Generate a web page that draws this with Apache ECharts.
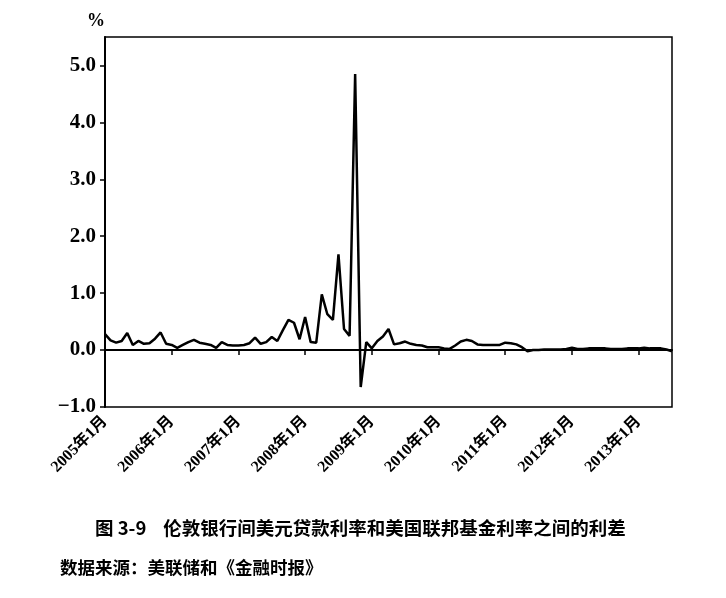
<!DOCTYPE html>
<html>
<head>
<meta charset="utf-8">
<script src="https://cdn.jsdelivr.net/npm/echarts@6/dist/echarts.min.js"></script>
<style>
html,body{margin:0;padding:0;background:#fff;}
#chart{width:726px;height:598px;}
</style>
</head>
<body>
<div id="chart"></div>
<script>
// Monthly categories: Jan 2005 .. Jul 2013
var years = [2005, 2006, 2007, 2008, 2009, 2010, 2011, 2012, 2013];
var categories = [];
years.forEach(function (y) {
  for (var m = 1; m <= 12; m++) {
    if (y === 2013 && m > 7) break;
    categories.push(y + '年' + m + '月');
  }
});

// Spread (%) between London interbank USD rate and US federal funds rate
var spread = [
  0.28, 0.17, 0.13, 0.16, 0.30, 0.09, 0.16, 0.11, 0.12, 0.20, 0.31, 0.11,   // 2005
  0.09, 0.04, 0.09, 0.14, 0.18, 0.13, 0.11, 0.09, 0.04, 0.14, 0.09, 0.08,   // 2006
  0.08, 0.09, 0.12, 0.22, 0.11, 0.14, 0.23, 0.16, 0.35, 0.53, 0.48, 0.19,   // 2007
  0.58, 0.14, 0.13, 0.98, 0.63, 0.53, 1.68, 0.37, 0.25, 4.85, -0.65, 0.14,  // 2008
  0.03, 0.16, 0.24, 0.37, 0.10, 0.12, 0.15, 0.11, 0.09, 0.08, 0.05, 0.05,   // 2009
  0.05, 0.03, 0.02, 0.08, 0.15, 0.18, 0.16, 0.10, 0.09, 0.09, 0.09, 0.09,   // 2010
  0.13, 0.12, 0.10, 0.05, -0.02, 0.00, 0.00, 0.01, 0.01, 0.01, 0.01, 0.02,  // 2011
  0.04, 0.02, 0.02, 0.03, 0.03, 0.03, 0.03, 0.02, 0.02, 0.02, 0.03, 0.03,   // 2012
  0.03, 0.04, 0.03, 0.03, 0.03, 0.01, -0.02                                 // 2013
];

var yTicks = { min: -1, max: 5.5, interval: 1 };
var unitLabel = '%';
var captionTitle = '图 3-9    伦敦银行间美元贷款利率和美国联邦基金利率之间的利差';
var captionSource = '数据来源：美联储和《金融时报》';

var serif = '"Liberation Serif", "Noto Sans CJK SC", serif';
var cjk = '"Noto Sans CJK SC", sans-serif';

var chart = echarts.init(document.getElementById('chart'), null, { renderer: 'canvas' });
chart.setOption({
  animation: false,
  backgroundColor: '#fff',
  grid: {
    left: 105, top: 37, width: 567, height: 370,
    show: true, borderColor: '#000', borderWidth: 1.5, backgroundColor: 'transparent'
  },
  xAxis: {
    type: 'category',
    data: categories,
    boundaryGap: false,
    axisLine: { lineStyle: { color: '#000', width: 2 } },
    axisTick: {
      show: true, length: 5,
      interval: function (i) { return i % 12 === 0; },
      lineStyle: { color: '#000', width: 1.5 }
    },
    axisLabel: {
      interval: function (i) { return i % 12 === 0; },
      rotate: 45,
      margin: 12,
      color: '#000',
      fontFamily: serif,
      fontWeight: 'bold',
      fontSize: 16
    },
    splitLine: { show: false }
  },
  yAxis: {
    type: 'value',
    min: yTicks.min, max: yTicks.max, interval: yTicks.interval,
    axisLine: { show: true, lineStyle: { color: '#000', width: 2 } },
    axisTick: { show: true, length: 5, lineStyle: { color: '#000', width: 1.5 } },
    axisLabel: {
      showMaxLabel: false,
      margin: 9,
      color: '#000',
      fontFamily: serif,
      fontWeight: 'bold',
      fontSize: 21,
      formatter: function (v) {
        var s = Math.abs(v).toFixed(1);
        return v < 0 ? '\u2212' + s : s;
      }
    },
    splitLine: { show: false }
  },
  series: [{
    type: 'line',
    data: spread,
    showSymbol: false,
    symbol: 'none',
    lineStyle: { color: '#000', width: 2.5 },
    markLine: {
      silent: true,
      symbol: ['none', 'none'],
      label: { show: false },
      lineStyle: { color: '#000', width: 2, type: 'solid' },
      data: [{ yAxis: 0 }]
    }
  }],
  graphic: [
    { type: 'text', left: 87, top: 12,
      style: { text: unitLabel, fill: '#000', font: 'bold 18px ' + serif } },
    { type: 'text', left: 95, top: 519,
      style: { text: captionTitle, fill: '#000', font: 'bold 18.5px ' + cjk } },
    { type: 'text', left: 60, top: 559,
      style: { text: captionSource, fill: '#000', font: 'bold 17.5px ' + cjk } }
  ]
});
</script>
</body>
</html>
